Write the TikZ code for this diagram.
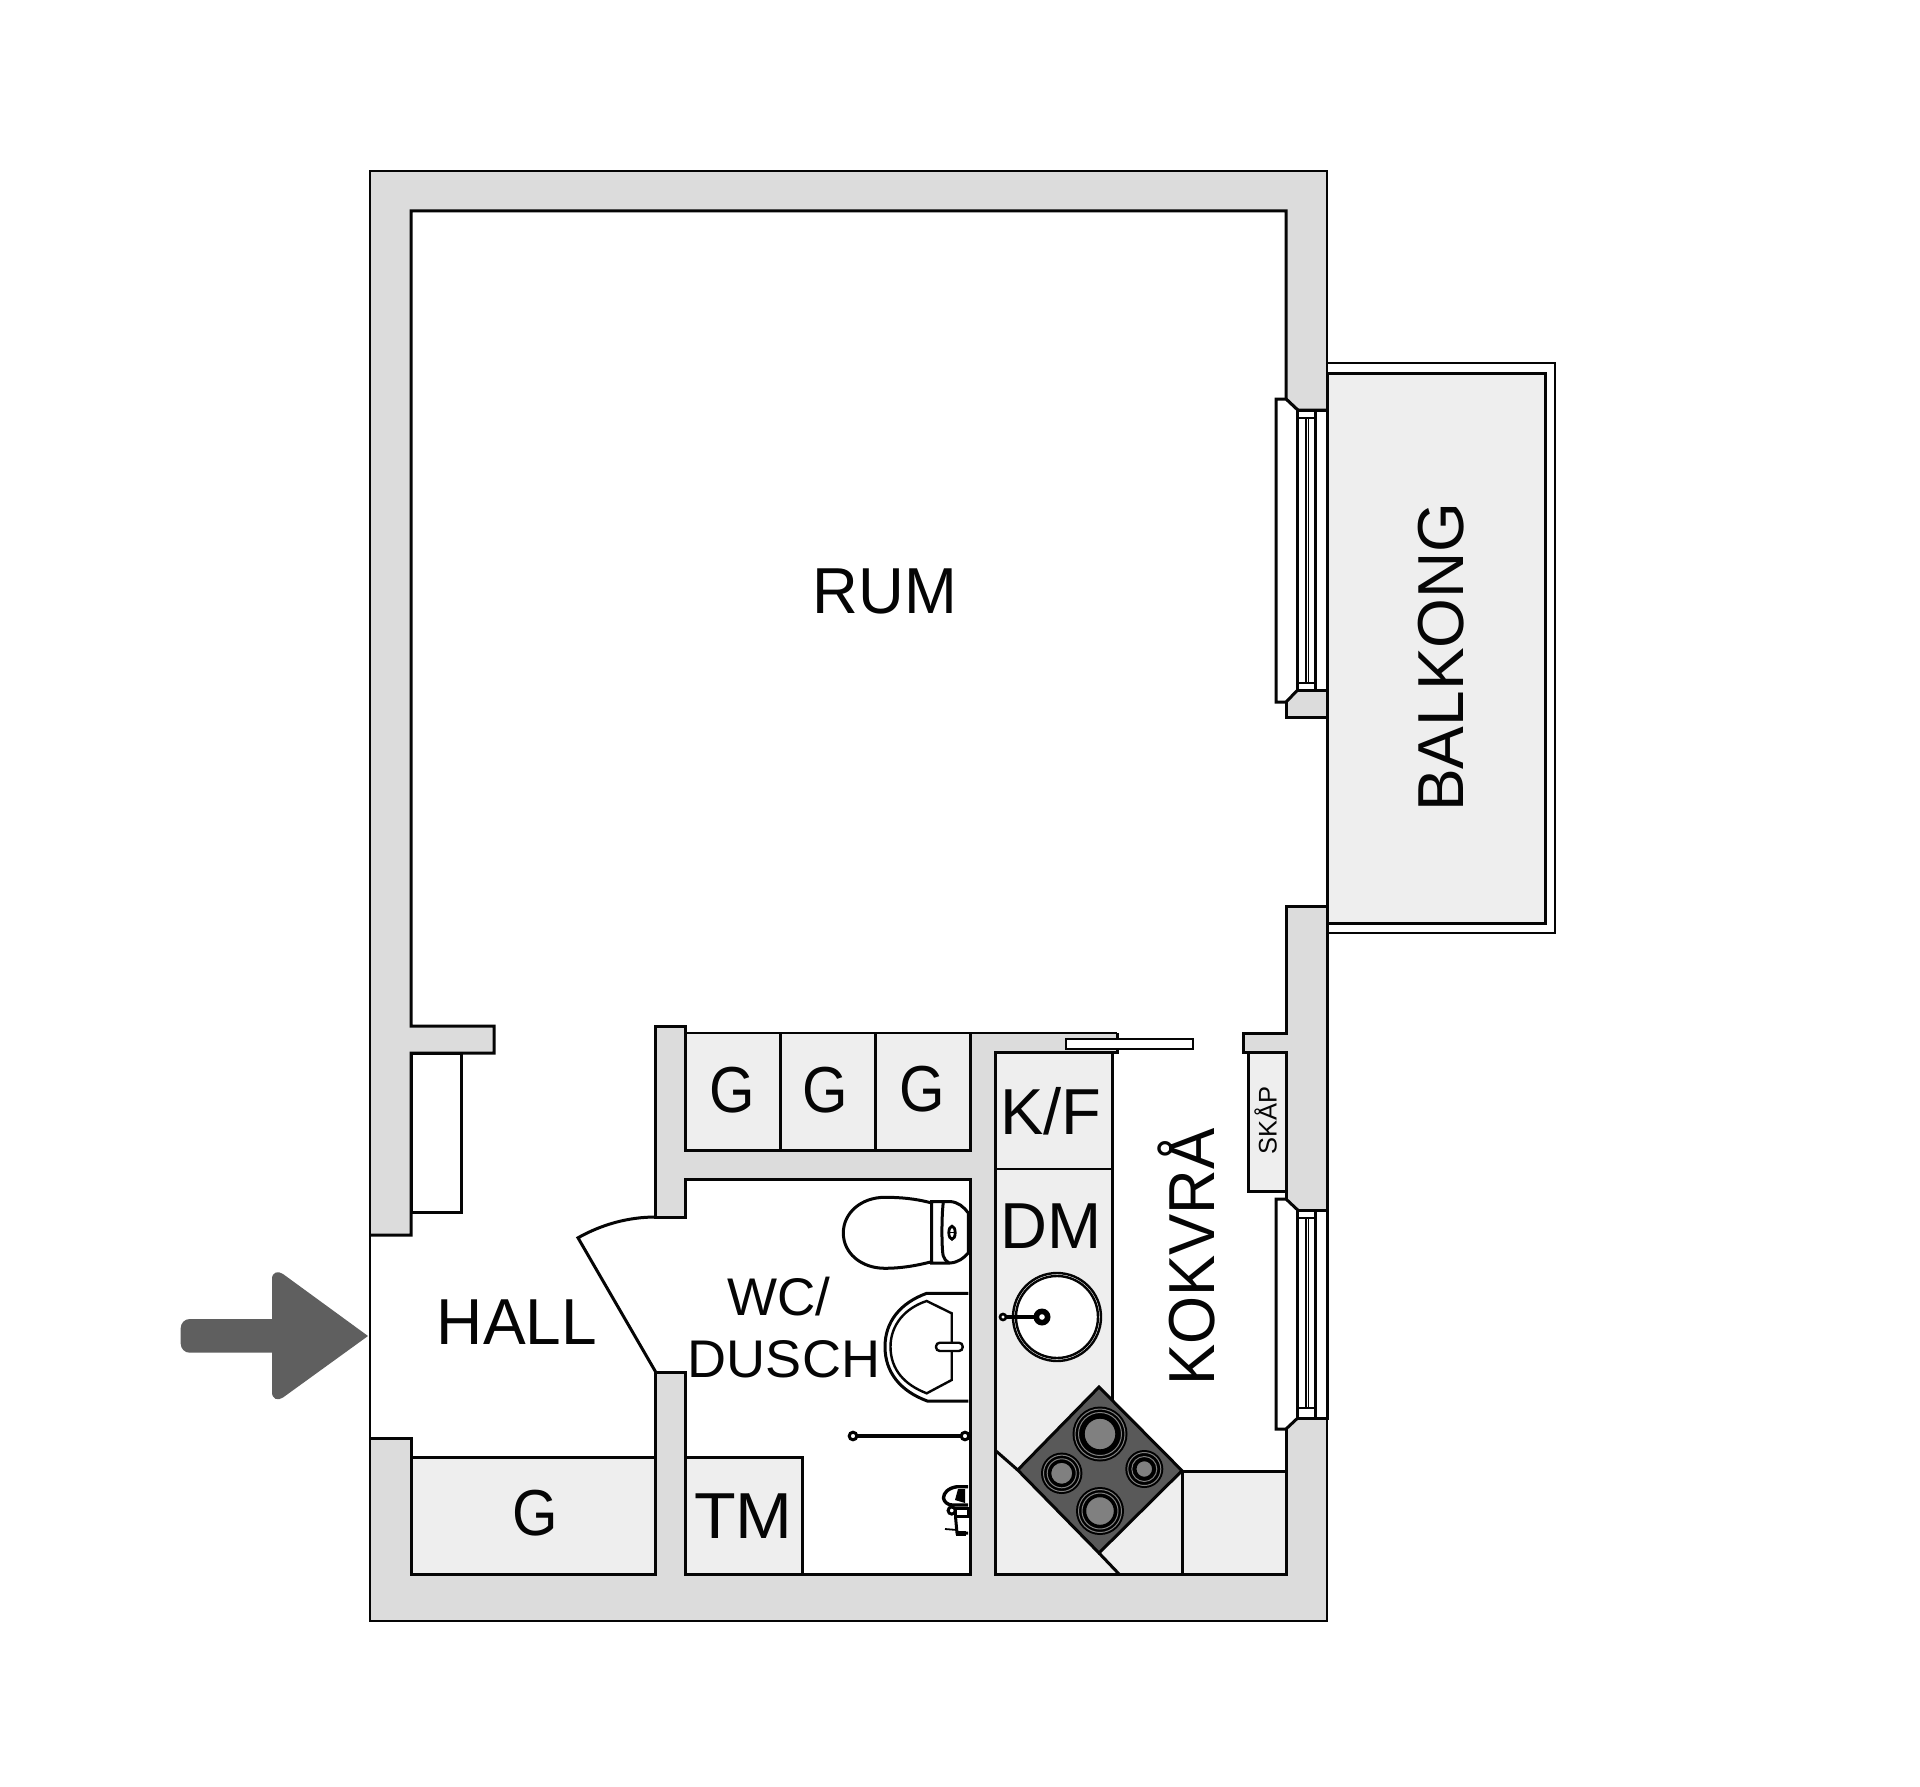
\documentclass[tikz,border=0pt]{standalone}
\usepackage{fontspec}
\setmainfont{Liberation Sans}
\definecolor{wallc}{HTML}{DCDCDC}
\definecolor{unitc}{HTML}{EEEEEE}
\definecolor{stovec}{HTML}{595959}
\definecolor{ringc}{HTML}{808080}
\definecolor{arrowc}{HTML}{5F5F5F}
\definecolor{inkc}{HTML}{050505}
\tikzset{
  wl/.style={draw=inkc,line width=3pt,line join=miter},
  ol/.style={draw=inkc,line width=2.4pt,line join=miter},
  tl/.style={draw=inkc,line width=1.8pt},
  lab/.style={inner sep=0pt,anchor=base,text=inkc,font=\fontsize{65}{70}\selectfont},
  labmid/.style={inner sep=0pt,anchor=base,text=inkc,font=\fontsize{53}{58}\selectfont},
  labsmall/.style={inner sep=0pt,anchor=base,text=inkc,font=\fontsize{25.5}{28}\selectfont},
  burnerout/.style={fill=black,draw=none},
  burnergray/.style={fill=ringc,draw=black,line width=2.4pt},
  burnerring/.style={draw=ringc,line width=1pt},
}
\begin{document}
\begin{tikzpicture}[x=1pt,y=-1pt]
\useasboundingbox[fill=white] (0,0) rectangle (1920,1787);

% balcony
\draw[ol] (1327,363) -- (1555,363) -- (1555,933) -- (1327,933);
\draw[wl,fill=unitc] (1327,373) -- (1545.7,373) -- (1545.7,923) -- (1327,923) -- cycle;

% built-in units
\fill[unitc] (685,1033) rectangle (970,1150);
\draw[tl] (685,1033) -- (970,1033);
\draw[wl] (780.7,1033) -- (780.7,1150);
\draw[wl] (875,1033) -- (875,1150);
\draw[wl,fill=unitc] (411,1457.7) rectangle (655.7,1574);
\draw[wl,fill=unitc] (685,1457.7) rectangle (802.3,1574);
\fill[unitc] (995,1052) -- (1112,1052) -- (1112,1400) -- (1182,1471) -- (1286,1471) -- (1286,1574) -- (995,1574) -- cycle;
\draw[wl] (1112,1052) -- (1112,1400);
\draw[ol] (995,1169) -- (1112,1169);
\draw[wl] (1182,1471) -- (1286,1471);
\draw[wl] (1182,1471) -- (1182,1574);
\draw[wl] (995.7,1450.7) -- (1017.7,1470);
\draw[wl] (1099,1553) -- (1119,1574);
\draw[wl,fill=unitc] (1248,1052) rectangle (1286,1191);
\draw[wl,fill=white] (411,1053) rectangle (461.7,1212);

% walls: fill
\fill[wallc] (370,1235) -- (370,171) -- (1327,171) -- (1327,410) -- (1297.7,410) -- (1286,399) -- (1286,211) -- (411,211) -- (411,1026) -- (494,1026) -- (494,1053) -- (411,1053) -- (411,1235) -- cycle;
\fill[wallc] (1286,702) -- (1297.7,690) -- (1327,690) -- (1327,717) -- (1286,717) -- cycle;
\fill[wallc] (1286,906) -- (1327,906) -- (1327,1210) -- (1297.7,1210) -- (1286,1200) -- (1286,1052) -- (1243,1052) -- (1243,1033) -- (1286,1033) -- cycle;
\fill[wallc] (370,1438) -- (411,1438) -- (411,1574) -- (655.7,1574) -- (655.7,1372) -- (685,1372) -- (685,1574) -- (970,1574) -- (970,1179) -- (685,1179) -- (685,1217) -- (655.7,1217) -- (655.7,1026) -- (685,1026) -- (685,1150) -- (970,1150) -- (970,1033) -- (1117,1033) -- (1117,1052) -- (995,1052) -- (995,1574) -- (1286,1574) -- (1286,1429) -- (1297.7,1418) -- (1327,1418) -- (1327,1621) -- (370,1621) -- cycle;

% walls: strokes
\draw[ol] (370,1438) -- (370,171) -- (1327,171) -- (1327,410);
\draw[wl] (1327,410) -- (1297.7,410) -- (1286,399) -- (1286,211) -- (411,211) -- (411,1026) -- (494,1026) -- (494,1053) -- (411,1053) -- (411,1235) -- (370,1235);
\draw[wl] (1286,702) -- (1286,717) -- (1327,717) -- (1327,690);
\draw[wl] (1327,906) -- (1286,906) -- (1286,1033) -- (1243,1033) -- (1243,1052) -- (1286,1052) -- (1286,1200);
\draw[wl] (1327,906) -- (1327,1210);
\draw[wl] (370,1438) -- (411,1438) -- (411,1574) -- (655.7,1574) -- (655.7,1372) -- (685,1372) -- (685,1574) -- (970,1574) -- (970,1179) -- (685,1179) -- (685,1217) -- (655.7,1217) -- (655.7,1026) -- (685,1026) -- (685,1150) -- (970,1150) -- (970,1033);
\draw[tl] (970,1033) -- (1117,1033);
\draw[wl] (1117,1033) -- (1117,1052) -- (995,1052) -- (995,1574) -- (1286,1574) -- (1286,1429);
\draw[ol] (1327,1418) -- (1327,1621) -- (370,1621) -- (370,1438);

% windows
\draw[wl,fill=white] (1276,399) -- (1286,399) -- (1297.7,410) -- (1297.7,690) -- (1286,702) -- (1276,702) -- cycle;
\draw[wl,fill=white] (1297.7,410) rectangle (1327,690);
\draw[wl] (1315,410) -- (1315,690);
\draw[tl] (1297.7,418) -- (1315,418);
\draw[tl] (1297.7,683) -- (1315,683);
\draw[tl] (1306,418) -- (1306,683);
\draw[tl] (1308.5,418) -- (1308.5,683);
\draw[wl,fill=white] (1276,1199) -- (1286,1199) -- (1297.7,1210) -- (1297.7,1418) -- (1286,1429) -- (1276,1429) -- cycle;
\draw[wl,fill=white] (1297.7,1210) rectangle (1327,1418);
\draw[wl] (1315,1210) -- (1315,1418);
\draw[tl] (1297.7,1217.7) -- (1315,1217.7);
\draw[tl] (1297.7,1408) -- (1315,1408);
\draw[tl] (1306,1217.7) -- (1306,1408);
\draw[tl] (1308.5,1217.7) -- (1308.5,1408);

% sliding panel at kitchen
\draw[tl,fill=white] (1066,1039) rectangle (1193.3,1049);

% door
\draw[wl] (655.7,1217) .. controls (628.8,1217) and (602.1,1224.2) .. (578,1237.8) -- (655.7,1372);

% toilet
\draw[wl,fill=white] (931.7,1203) .. controls (915,1198.5) and (900,1197.3) .. (885,1197.3) .. controls (861,1197.3) and (843.3,1213) .. (843.3,1233) .. controls (843.3,1253) and (861,1268.3) .. (885,1268.3) .. controls (900,1268.3) and (915,1266) .. (931.7,1261.7) -- cycle;
\draw[wl,fill=white] (931.7,1201.5) -- (950,1201.5) .. controls (958,1202) and (964,1207) .. (968.3,1213) -- (968.3,1253) .. controls (964,1258) and (958,1262.5) .. (950,1263) -- (931.7,1263) -- cycle;
\draw[wl] (943.3,1202.5) .. controls (941.5,1215) and (941.5,1250) .. (943.3,1256) .. controls (944,1259) and (946,1261) .. (949,1263);
\draw[draw=black,line width=2.8pt,fill=white] (952,1232.7) ellipse [x radius=3.2,y radius=6.5];
\draw[black,line width=1pt] (949,1232.7) -- (955,1232.7);

% basin, bathroom
\draw[wl,fill=white] (968.3,1293.3) -- (926.7,1293.3) .. controls (900,1303) and (885,1322) .. (885,1346.7) .. controls (885,1372) and (900,1391) .. (927.3,1401) -- (968.3,1401);
\draw[ol,fill=white] (926.7,1301) -- (951.7,1313.3) -- (951.7,1380) -- (926.7,1393.3) .. controls (905,1385) and (890.5,1370) .. (890.5,1346.7) .. controls (890.5,1325) and (905,1308) .. (926.7,1301) -- cycle;
\draw[ol,fill=white,rounded corners=3.8pt] (936,1342.7) rectangle (962.7,1351);

% rail
\draw[line width=3.4pt,inkc] (853,1436) -- (965,1436);
\draw[line width=3pt,draw=black,fill=white] (853,1436) circle (3.8);
\draw[line width=3pt,draw=black,fill=white] (965,1436) circle (3.8);

% small tap
\draw[line width=3.4pt,draw=black,fill=white,line join=round] (968,1486.7) -- (957,1486.7) .. controls (948,1488) and (943.5,1493) .. (943.5,1498) .. controls (944,1502) and (948,1505) .. (952,1505) -- (968,1505);
\fill[black] (965,1489) -- (958,1489) -- (955,1500) -- (965,1503) -- cycle;
\draw[line width=3pt,draw=black,fill=white] (951.7,1510.5) circle (3.6);
\draw[line width=3pt,draw=black,fill=white] (955,1508) -- (968,1508) -- (968,1516.7) -- (955,1516.7) -- cycle;
\draw[line width=3pt,draw=black,fill=white] (955.5,1516.7) -- (957,1533) -- (968,1533);
\draw[line width=4.5pt,black] (956,1533.5) -- (966,1533.5);
\draw[line width=1.8pt,black] (945,1529) -- (957,1530);

% stove
\draw[wl,fill=stovec,line join=miter] (1099,1387) -- (1182,1470.7) -- (1099,1553) -- (1017.7,1470) -- cycle;
\foreach \cx/\cy/\ro/\rr/\rg in {1100/1434/27.5/21.5/16.5, 1061.7/1473.3/20.7/14.5/11.7, 1144.3/1469/19/12.5/9, 1100/1511/24/18/15}{
  \fill[burnerout] (\cx,\cy) circle (\ro);
  \draw[burnerring] (\cx,\cy) circle (\ro-2.5);
  \draw[burnerring] (\cx,\cy) circle (\rr);
  \draw[burnergray] (\cx,\cy) circle (\rg);
}

% kitchen sink
\draw[ol,fill=white] (1057,1317) circle (44);
\draw[ol] (1057,1317) circle (41);
\draw[draw=black,line width=3.6pt] (1003,1317) -- (1042,1317);
\draw[draw=black,line width=2.6pt,fill=white] (1003,1317) circle (3);
\fill[black] (1042,1317) circle (8.5);
\fill[white] (1042,1317) circle (2.8);

% entrance arrow
\fill[arrowc,rounded corners=9pt] (180.7,1319) -- (290,1319) -- (290,1352.7) -- (180.7,1352.7) -- cycle;
\fill[arrowc] (272,1279) .. controls (272,1272) and (278,1270.5) .. (283,1274) -- (368,1336) -- (283,1397.5) .. controls (278,1401) and (272,1399.5) .. (272,1392) -- cycle;

% labels
\node[lab,xscale=.975] (rum) at (885,613) {RUM};
\node[lab,rotate=90,xscale=.985] (balkong) at (1463.3,657) {BALKONG};
\node[lab,xscale=.985] (hall) at (517,1344) {HALL};
\node[lab,xscale=.9] (g1) at (535,1535) {G};
\node[lab,xscale=.9] (g2) at (732.5,1112) {G};
\node[lab,xscale=.9] (g3) at (825.5,1112) {G};
\node[lab,xscale=.9] (g4) at (922.5,1111) {G};
\node[labmid] (wc) at (779,1315) {WC/};
\node[labmid,xscale=1.02] (dusch) at (784,1377.7) {DUSCH};
\node[lab,xscale=1.05] (tm) at (743.5,1538) {TM};
\node[lab] (kf) at (1051,1134) {K/F};
\node[lab] (dm) at (1051.5,1248) {DM};
\node[lab,rotate=90,xscale=.95] (kok) at (1214,1257) {KOKVRÅ};
\node[labsmall,rotate=90] (skap) at (1276.7,1120.7) {SKÅP};
\end{tikzpicture}
\end{document}
